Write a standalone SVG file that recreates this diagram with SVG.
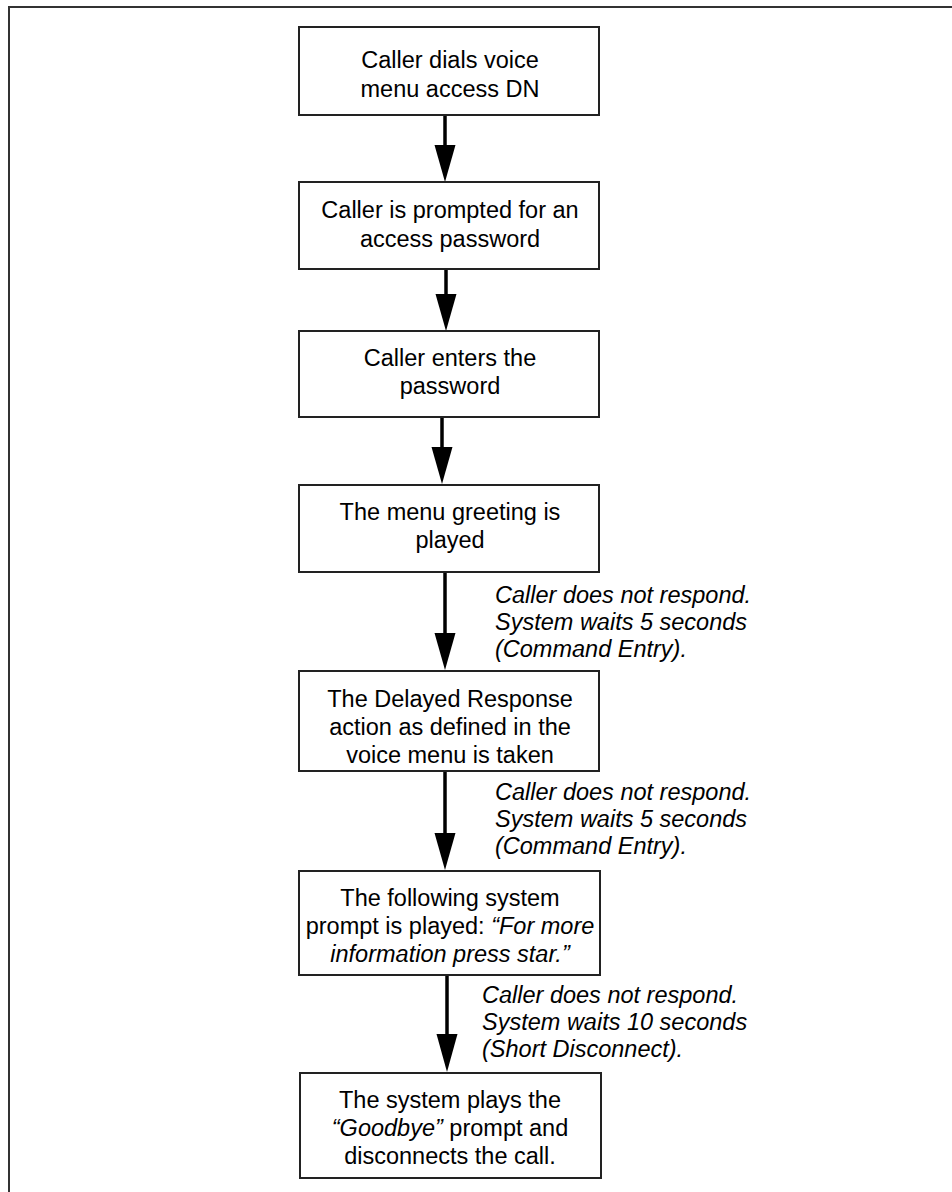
<svg xmlns="http://www.w3.org/2000/svg" width="952" height="1192" viewBox="0 0 952 1192">
<style>
.box{fill:#fff;stroke:#222;stroke-width:2}
.t{font-family:"Liberation Sans",Arial,sans-serif;font-size:23.5px;fill:#000;text-anchor:middle}
.l{font-family:"Liberation Sans",Arial,sans-serif;font-size:23.5px;font-style:italic;fill:#000}
.i{font-style:italic}
.shaft{stroke:#000;stroke-width:3.5;fill:none}
.frame{stroke:#333;stroke-width:2;fill:none}
</style>
<rect width="952" height="1192" fill="#fff"/>
<path class="frame" d="M9,1192 V7 H952"/>
<g id="connectors">
<line class="shaft" x1="445" y1="115" x2="445" y2="150"/><polygon points="434.5,145 455.5,145 445,182"/>
<line class="shaft" x1="446" y1="269" x2="446" y2="299"/><polygon points="435.5,294 456.5,294 446,331"/>
<line class="shaft" x1="442" y1="417" x2="442" y2="452"/><polygon points="431.5,447 452.5,447 442,484"/>
<line class="shaft" x1="445" y1="572" x2="445" y2="638"/><polygon points="434.5,633 455.5,633 445,670"/>
<line class="shaft" x1="445" y1="771" x2="445" y2="838"/><polygon points="434.5,833 455.5,833 445,870"/>
<line class="shaft" x1="447" y1="975" x2="447" y2="1039"/><polygon points="436.5,1034 457.5,1034 447,1072"/>
</g>
<g id="label1"><text class="l" x="495" y="603">Caller does not respond.</text><text class="l" x="495" y="630">System waits 5 seconds</text><text class="l" x="495" y="657">(Command Entry).</text></g>
<g id="label2"><text class="l" x="495" y="800">Caller does not respond.</text><text class="l" x="495" y="827">System waits 5 seconds</text><text class="l" x="495" y="854">(Command Entry).</text></g>
<g id="label3"><text class="l" x="482" y="1003">Caller does not respond.</text><text class="l" x="482" y="1030">System waits 10 seconds</text><text class="l" x="482" y="1057">(Short Disconnect).</text></g>
<g id="n1"><rect class="box" x="299" y="27" width="300" height="88"/><text class="t" x="450" y="68">Caller dials voice</text><text class="t" x="450" y="97">menu access DN</text></g>
<g id="n2"><rect class="box" x="299" y="182" width="300" height="87"/><text class="t" x="450" y="218">Caller is prompted for an</text><text class="t" x="450" y="247">access password</text></g>
<g id="n3"><rect class="box" x="299" y="331" width="300" height="86"/><text class="t" x="450" y="366">Caller enters the</text><text class="t" x="450" y="394">password</text></g>
<g id="n4"><rect class="box" x="299" y="485" width="300" height="87"/><text class="t" x="450" y="520">The menu greeting is</text><text class="t" x="450" y="548">played</text></g>
<g id="n5"><rect class="box" x="299" y="671" width="300" height="100"/><text class="t" x="450" y="707">The Delayed Response</text><text class="t" x="450" y="735">action as defined in the</text><text class="t" x="450" y="763">voice menu is taken</text></g>
<g id="n6"><rect class="box" x="299" y="871" width="301" height="104"/><text class="t" x="450" y="906">The following system</text><text class="t" x="450" y="934">prompt is played: <tspan class="i">“For more</tspan></text><text class="t i" x="450" y="962">information press star.”</text></g>
<g id="n7"><rect class="box" x="300" y="1073" width="301" height="105"/><text class="t" x="450" y="1108">The system plays the</text><text class="t" x="450" y="1136"><tspan class="i">“Goodbye”</tspan> prompt and</text><text class="t" x="450" y="1164">disconnects the call.</text></g>
</svg>
